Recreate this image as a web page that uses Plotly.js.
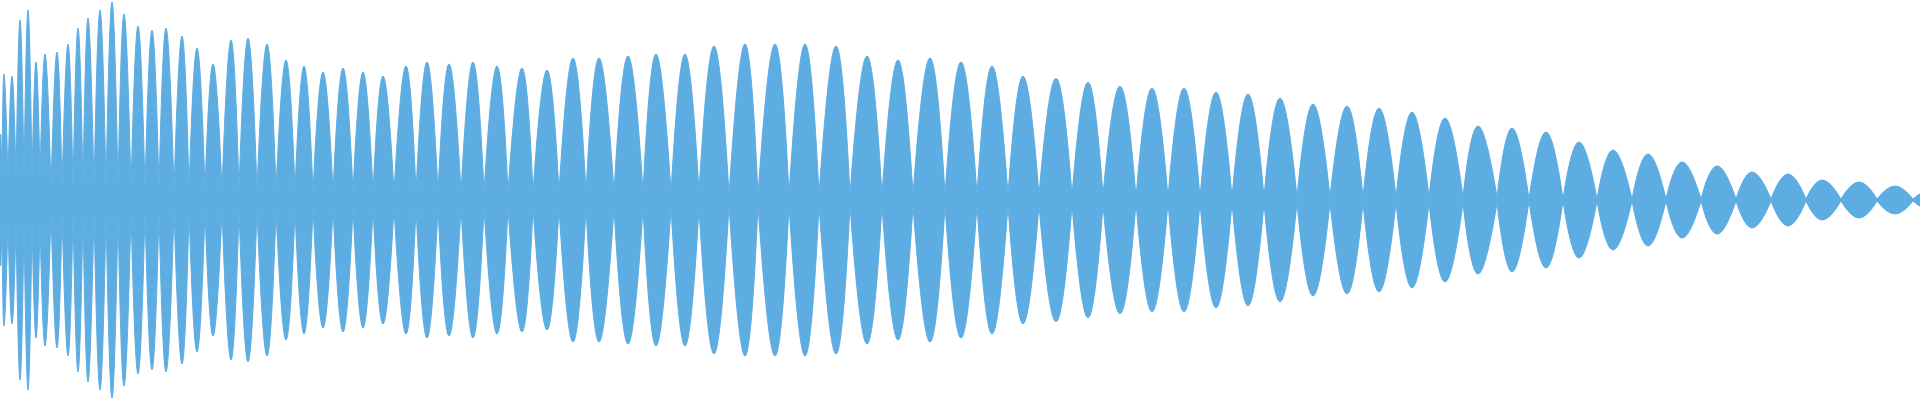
<!DOCTYPE html>
<html>
<head>
<meta charset="utf-8">
<script src="https://cdn.plot.ly/plotly-3.0.1.min.js"></script>
<style>
  html, body { margin: 0; padding: 0; background: #ffffff; }
  #chart { width: 1920px; height: 400px; }
</style>
</head>
<body>
<div id="chart"></div>
<script>
// Waveform envelope: one lobe per beat.
// Lobe edges (neck positions along the time axis)
const lobeEdges = [
  -1, 2, 8, 16, 24, 32, 40, 51, 62, 73,
  83, 94, 106, 118, 131, 145, 159, 174, 189, 205,
  222, 239, 257, 276, 295, 313, 333, 353, 373, 394,
  416, 438, 461, 484, 508, 533, 559, 586, 614, 643,
  671, 699, 729, 758, 789, 819, 850, 882, 913, 945,
  977, 1008, 1039, 1072, 1103, 1136, 1168, 1200, 1232, 1264,
  1297, 1330, 1363, 1396, 1429, 1463, 1497, 1529, 1563, 1597,
  1632, 1666, 1701, 1736, 1771, 1806, 1841, 1877, 1913, 1949
];
// Amplitude left at each neck
const neckAmp = [
  0.10, 0.10, 0.10, 0.10, 0.10, 0.10, 0.10,
  0.05, 0.05, 0.05, 0.05, 0.05, 0.05, 0.05, 0.05, 0.05,
  0.05, 0.05, 0.05, 0.05, 0.05, 0.05, 0.05, 0.05, 0.05,
  0.04, 0.04, 0.04, 0.04, 0.04, 0.04, 0.04, 0.04, 0.04,
  0.04, 0.04, 0.04, 0.04, 0.04, 0.04, 0.04, 0.04,
  0.025, 0.025, 0.025, 0.025, 0.025, 0.025, 0.025, 0.025, 0.025,
  0.025, 0.025, 0.025, 0.025,
  0.015, 0.015, 0.015, 0.015, 0.015, 0.015, 0.015, 0.015, 0.015,
  0.015, 0.015, 0.015,
  0.005, 0.005, 0.005, 0.005, 0.005, 0.005, 0.005, 0.005, 0.005,
  0.005, 0.005, 0.005, 0.005
];
// Time of each lobe's crest
const peakTime = [
  0.5, 4, 12, 20, 28, 36, 45, 57, 68, 78,
  88, 100, 112, 124, 138, 152, 166, 182, 197, 213,
  231, 248, 267, 286, 304, 323, 343, 363, 383, 406,
  427, 449, 473, 497, 522, 547, 573, 599, 628, 656,
  685, 714, 745, 775, 805, 836, 867, 898, 930, 961,
  992, 1023, 1056, 1088, 1120, 1152, 1184, 1216, 1248, 1280,
  1313, 1347, 1379, 1412, 1445, 1478, 1512, 1546, 1579, 1613,
  1648, 1682, 1717, 1752, 1788, 1822, 1859, 1895, 1931
];
// Crest amplitude of each lobe (normalised, full scale = 1)
const peakAmp = [
  0.33, 0.63, 0.62, 0.90, 0.95, 0.69, 0.73, 0.74, 0.78, 0.86,
  0.91, 0.95, 0.99, 0.93, 0.87, 0.85, 0.86, 0.82, 0.76, 0.68,
  0.80, 0.81, 0.78, 0.70, 0.67, 0.64, 0.66, 0.64, 0.62, 0.67,
  0.69, 0.68, 0.69, 0.67, 0.66, 0.65, 0.71, 0.71, 0.72, 0.73,
  0.73, 0.77, 0.78, 0.78, 0.78, 0.77, 0.72, 0.70, 0.71, 0.69,
  0.67, 0.62, 0.61, 0.59, 0.57, 0.56, 0.56, 0.54, 0.53, 0.51,
  0.48, 0.47, 0.46, 0.44, 0.41, 0.37, 0.36, 0.34, 0.29, 0.25,
  0.23, 0.19, 0.17, 0.14, 0.13, 0.10, 0.09, 0.07, 0.05
];

const COLOR = '#5DADE2';

function buildSide(sign) {
  const xs = [], ys = [];
  for (let i = 0; i < peakTime.length; i++) {
    xs.push(lobeEdges[i], peakTime[i], lobeEdges[i + 1], null);
    ys.push(sign * neckAmp[i], sign * peakAmp[i], sign * neckAmp[i + 1], null);
  }
  return {
    x: xs, y: ys,
    type: 'scatter', mode: 'lines',
    line: { shape: 'spline', smoothing: 1.3, width: 1, color: COLOR },
    fill: 'tozeroy', fillcolor: COLOR,
    connectgaps: false,
    hoverinfo: 'skip',
    showlegend: false
  };
}

const data = [buildSide(1), buildSide(-1)];

const layout = {
  width: 1920, height: 400,
  margin: { l: 0, r: 0, t: 0, b: 0, pad: 0 },
  paper_bgcolor: '#ffffff', plot_bgcolor: '#ffffff',
  showlegend: false,
  xaxis: { range: [0, 1920], visible: false, showgrid: false, zeroline: false, fixedrange: true },
  yaxis: { range: [-1.0, 1.0], visible: false, showgrid: false, zeroline: false, fixedrange: true }
};

Plotly.newPlot('chart', data, layout, { staticPlot: true, displayModeBar: false });
</script>
</body>
</html>
